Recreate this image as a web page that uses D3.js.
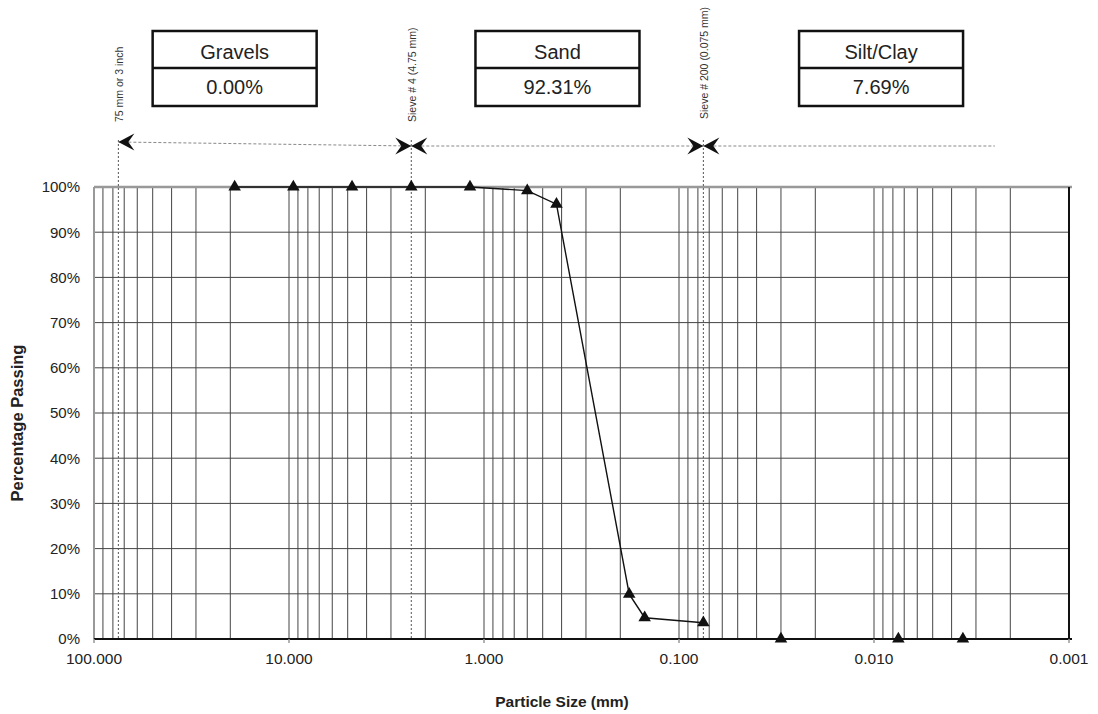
<!DOCTYPE html>
<head>
<meta charset="utf-8">
<script src="https://d3js.org/d3.v7.min.js"></script>
<style>
  body { margin: 0; background: #fff; }
  text { font-family: "Liberation Sans", Arial, sans-serif; fill: #222; }
</style>
</head>
<body>
<div id="my_dataviz"></div>
<script>

// sieve analysis (connected by the line)
var sieveSizes   = [19.0, 9.5, 4.75, 2.36, 1.18, 0.6, 0.425, 0.18, 0.15, 0.075];
var sievePassing = [100, 100, 100, 100, 100, 99.2, 96.2, 9.9, 4.7, 3.6];

// hydrometer points (markers only)
var hydroSizes   = [0.03, 0.0075, 0.0035];
var hydroPassing = [0, 0, 0];

// tick labels
var xTickValues = [100, 10, 1, 0.1, 0.01, 0.001];
var xTickLabels = ["100.000", "10.000", "1.000", "0.100", "0.010", "0.001"];
var yTickValues = [0, 10, 20, 30, 40, 50, 60, 70, 80, 90, 100];

// fraction summary boxes
var fractionNames  = ["Gravels", "Sand", "Silt/Clay"];
var fractionValues = ["0.00%", "92.31%", "7.69%"];

// boundary markers above the plot
var boundaryLabels = ["75 mm or 3 inch", "Sieve # 4 (4.75 mm)", "Sieve # 200 (0.075 mm)"];
var boundarySizes  = [75, 2.36, 0.075];

// layout
var W = 1098, H = 714;
var pLeft = 94, pRight = 1069, pTop = 187, pBottom = 639;
var boxCenters = [19, 0.42, 0.0092];   // in mm, placed through the x scale
var arrowEnd = 0.0024;                  // dotted line ends here (mm)

var svg = d3.select("#my_dataviz")
  .append("svg")
    .attr("width", W)
    .attr("height", H);

var x = d3.scaleLog()
  .domain([100, 0.001])
  .range([pLeft, pRight]);

var y = d3.scaleLinear()
  .domain([0, 100])
  .range([pBottom, pTop]);

// vertical grid (1..9 in every decade)
svg.append("g")
  .selectAll("line")
  .data(x.ticks())
  .enter()
  .append("line")
    .attr("x1", function(d){ return x(d); })
    .attr("x2", function(d){ return x(d); })
    .attr("y1", pTop)
    .attr("y2", pBottom)
    .attr("stroke", "#444")
    .attr("stroke-width", 1);

// horizontal grid
svg.append("g")
  .selectAll("line")
  .data(yTickValues)
  .enter()
  .append("line")
    .attr("x1", pLeft)
    .attr("x2", pRight)
    .attr("y1", function(d){ return y(d); })
    .attr("y2", function(d){ return y(d); })
    .attr("stroke", "#444")
    .attr("stroke-width", 1);

// frame
svg.append("line").attr("x1", pLeft).attr("x2", pRight + 3).attr("y1", pTop).attr("y2", pTop)
  .attr("stroke", "#999").attr("stroke-width", 2.5);
svg.append("line").attr("x1", pLeft).attr("x2", pLeft).attr("y1", pTop).attr("y2", pBottom)
  .attr("stroke", "#999").attr("stroke-width", 2);
svg.append("line").attr("x1", pLeft).attr("x2", pRight + 3).attr("y1", pBottom).attr("y2", pBottom)
  .attr("stroke", "#111").attr("stroke-width", 2);
svg.append("line").attr("x1", pRight).attr("x2", pRight).attr("y1", pTop).attr("y2", pBottom)
  .attr("stroke", "#111").attr("stroke-width", 2);

// small ticks below the x axis
svg.append("g")
  .selectAll("line")
  .data(xTickValues)
  .enter()
  .append("line")
    .attr("x1", function(d){ return x(d); })
    .attr("x2", function(d){ return x(d); })
    .attr("y1", pBottom)
    .attr("y2", pBottom + 4)
    .attr("stroke", "#999")
    .attr("stroke-width", 1.5);

// x tick labels
svg.append("g")
  .selectAll("text")
  .data(xTickValues)
  .enter()
  .append("text")
    .attr("x", function(d){ return x(d); })
    .attr("y", pBottom + 25)
    .attr("text-anchor", "middle")
    .style("font-size", "15.5px")
    .text(function(d, i){ return xTickLabels[i]; });

// y tick labels
svg.append("g")
  .selectAll("text")
  .data(yTickValues)
  .enter()
  .append("text")
    .attr("x", pLeft - 14)
    .attr("y", function(d){ return y(d); })
    .attr("dy", "0.36em")
    .attr("text-anchor", "end")
    .style("font-size", "15px")
    .text(function(d){ return d + "%"; });

// axis titles
svg.append("text")
  .attr("x", 562)
  .attr("y", 707)
  .attr("text-anchor", "middle")
  .style("font-size", "15.5px")
  .style("font-weight", "bold")
  .text("Particle Size (mm)");

svg.append("text")
  .attr("transform", "translate(23," + 423 + ") rotate(-90)")
  .attr("text-anchor", "middle")
  .style("font-size", "16.5px")
  .style("font-weight", "bold")
  .text("Percentage Passing");

// boundary dotted verticals
svg.append("g")
  .selectAll("line")
  .data(boundarySizes)
  .enter()
  .append("line")
    .attr("x1", function(d){ return x(d); })
    .attr("x2", function(d){ return x(d); })
    .attr("y1", 140)
    .attr("y2", pBottom)
    .attr("stroke", "#555")
    .attr("stroke-width", 1)
    .attr("stroke-dasharray", "2,2");

// boundary rotated labels
svg.append("g")
  .selectAll("text")
  .data(boundarySizes)
  .enter()
  .append("text")
    .attr("transform", function(d, i){
      var yy = i == 2 ? 119 : 122;
      return "translate(" + (x(d) + 4.5) + "," + yy + ") rotate(-90)";
    })
    .attr("text-anchor", "start")
    .style("font-size", "10.5px")
    .style("fill", "#333")
    .text(function(d, i){ return boundaryLabels[i]; });

// dotted horizontal arrow line
var arrowY = [142, 146, 146, 146];
var arrowX = [boundarySizes[0], boundarySizes[1], boundarySizes[2], arrowEnd];
for (var i = 0; i < 3; i++) {
  svg.append("line")
    .attr("x1", x(arrowX[i]))
    .attr("x2", x(arrowX[i + 1]))
    .attr("y1", i == 0 ? arrowY[0] : arrowY[1])
    .attr("y2", arrowY[i + 1])
    .attr("stroke", "#888")
    .attr("stroke-width", 1)
    .attr("stroke-dasharray", "3,2");
}

// arrowheads (stealth style); dir -1 points left, +1 points right
function arrowHead(px, py, dir) {
  var p = "M0,0 L" + (-dir * 16) + ",-8.5 L" + (-dir * 10) + ",0 L" + (-dir * 16) + ",8.5 Z";
  svg.append("path")
    .attr("d", p)
    .attr("transform", "translate(" + px + "," + py + ")")
    .attr("fill", "#111");
}
arrowHead(x(boundarySizes[0]), 142, -1);
arrowHead(x(boundarySizes[1]), 146, 1);
arrowHead(x(boundarySizes[1]), 146, -1);
arrowHead(x(boundarySizes[2]), 146, 1);
arrowHead(x(boundarySizes[2]), 146, -1);

// fraction boxes
var boxW = 164, boxTop = 31, boxMid = 68, boxBot = 106;
var boxes = svg.append("g")
  .selectAll("g")
  .data(fractionNames)
  .enter()
  .append("g")
    .attr("transform", function(d, i){ return "translate(" + x(boxCenters[i]) + ",0)"; });

boxes.append("rect")
  .attr("x", -boxW / 2)
  .attr("y", boxTop)
  .attr("width", boxW)
  .attr("height", boxBot - boxTop)
  .attr("fill", "#fff")
  .attr("stroke", "#111")
  .attr("stroke-width", 2.5);

boxes.append("line")
  .attr("x1", -boxW / 2)
  .attr("x2", boxW / 2)
  .attr("y1", boxMid)
  .attr("y2", boxMid)
  .attr("stroke", "#111")
  .attr("stroke-width", 2.5);

boxes.append("text")
  .attr("y", 59)
  .attr("text-anchor", "middle")
  .style("font-size", "20px")
  .text(function(d){ return d; });

boxes.append("text")
  .attr("y", 94)
  .attr("text-anchor", "middle")
  .style("font-size", "20px")
  .text(function(d, i){ return fractionValues[i]; });

// gradation curve
var sieveData = sieveSizes.map(function(d, i){ return [d, sievePassing[i]]; });
var hydroData = hydroSizes.map(function(d, i){ return [d, hydroPassing[i]]; });

svg.append("path")
  .datum(sieveData)
  .attr("fill", "none")
  .attr("stroke", "#111")
  .attr("stroke-width", 1.4)
  .attr("d", d3.line()
    .x(function(d){ return x(d[0]); })
    .y(function(d){ return y(d[1]); })
  );

var tri = d3.symbol().type(d3.symbolTriangle).size(68);
svg.append("g")
  .selectAll("path")
  .data(sieveData.concat(hydroData))
  .enter()
  .append("path")
    .attr("d", tri)
    .attr("transform", function(d){ return "translate(" + x(d[0]) + "," + y(d[1]) + ")"; })
    .attr("fill", "#111");

</script>
</body>
